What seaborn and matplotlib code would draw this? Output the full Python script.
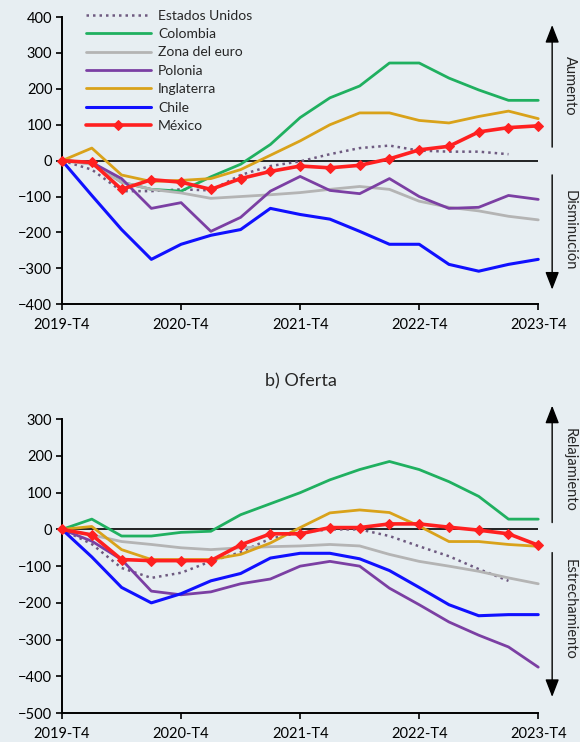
import numpy as np
import pandas as pd
import matplotlib
matplotlib.use("Agg")
import matplotlib.pyplot as plt
import seaborn as sns

# quarters 2019-T4 .. 2023-T4
quarters = list(range(17))
tick_pos = [0, 4, 8, 12, 16]
tick_labels = ["2019-T4", "2020-T4", "2021-T4", "2022-T4", "2023-T4"]

series_names = ["Estados Unidos", "Colombia", "Zona del euro", "Polonia",
                "Inglaterra", "Chile", "México"]

# a) Demanda (top panel)
dem_eeuu = [0, -25, -85, -85, -80, -83, -40, -15, -2, 18, 35, 42, 28, 25, 25, 18, np.nan]
dem_colombia = [0, -5, -60, -80, -85, -45, -10, 45, 120, 175, 208, 272, 272, 230, 197, 168, 168]
dem_euro = [0, -10, -60, -80, -90, -105, -100, -95, -89, -80, -72, -80, -113, -130, -140, -155, -165]
dem_polonia = [0, -5, -50, -133, -117, -197, -158, -85, -44, -83, -92, -50, -100, -133, -130, -97, -108]
dem_inglaterra = [0, 35, -40, -58, -55, -50, -25, 15, 55, 100, 133, 133, 112, 105, 123, 138, 117]
dem_chile = [0, -97, -192, -275, -233, -208, -192, -133, -150, -163, -197, -233, -233, -289, -308, -289, -275]
dem_mexico = [0, -5, -80, -53, -60, -80, -50, -30, -15, -20, -13, 5, 30, 40, 80, 92, 97]

# b) Oferta (bottom panel)
of_eeuu = [0, -40, -105, -132, -118, -87, -62, -25, -8, 0, 0, -18, -46, -73, -108, -140, np.nan]
of_colombia = [0, 28, -18, -18, -8, -5, 40, 70, 100, 135, 163, 185, 163, 130, 90, 28, 28]
of_euro = [0, -15, -33, -41, -50, -55, -50, -47, -45, -41, -45, -68, -87, -100, -114, -132, -148]
of_polonia = [0, -32, -82, -168, -178, -170, -148, -135, -100, -87, -100, -160, -205, -252, -288, -320, -375]
of_inglaterra = [0, 8, -55, -82, -82, -82, -68, -37, 5, 45, 53, 46, 9, -33, -33, -41, -46]
of_chile = [0, -75, -158, -200, -175, -140, -120, -78, -65, -65, -80, -112, -158, -205, -235, -232, -232]
of_mexico = [0, -15, -82, -85, -85, -85, -42, -12, -12, 5, 5, 15, 15, 6, -2, -12, -43]

styles = {
    "Estados Unidos": dict(color="#6e5a80", lw=1.8, ls=(0, (1, 1.6))),
    "Colombia": dict(color="#20b060", lw=2.0, ls="-"),
    "Zona del euro": dict(color="#b4b4b4", lw=2.0, ls="-"),
    "Polonia": dict(color="#7b3fa3", lw=2.0, ls="-"),
    "Inglaterra": dict(color="#d9a21a", lw=2.0, ls="-"),
    "Chile": dict(color="#1010ff", lw=2.2, ls="-"),
    "México": dict(color="#ff2020", lw=2.6, ls="-", marker="D", ms=5),
}

bg = "#e7eef2"
sns.set_style("ticks")
plt.rcParams["font.family"] = ["Lato", "DejaVu Sans"]

fig = plt.figure(figsize=(5.8, 7.42), dpi=100, facecolor=bg)
ax1 = fig.add_axes([0.107, 0.590, 0.821, 0.387])
ax2 = fig.add_axes([0.107, 0.039, 0.821, 0.396])


def draw_panel(ax, data, ylim, yticks, legend=False):
    ax.set_facecolor(bg)
    ax.axhline(0, color="black", lw=1.2, zorder=1)
    for name in series_names:
        df = pd.DataFrame({"q": quarters, "v": data[name]})
        st = styles[name]
        sns.lineplot(data=df, x="q", y="v", ax=ax, color=st["color"], lw=st["lw"],
                     linestyle=st["ls"], marker=st.get("marker"), markersize=st.get("ms", 0),
                     markeredgecolor=st["color"], label=name if legend else None,
                     zorder=3 if name == "México" else 2, clip_on=False)
    ax.set_xlim(0, 16)
    ax.set_ylim(*ylim)
    ax.set_yticks(yticks)
    ax.set_xticks(tick_pos)
    ax.set_xticklabels(tick_labels)
    ax.set_xlabel("")
    ax.set_ylabel("")
    for side in ["top", "right"]:
        ax.spines[side].set_visible(False)
    for side in ["left", "bottom"]:
        ax.spines[side].set_color("black")
        ax.spines[side].set_linewidth(1.4)
    ax.tick_params(axis="both", labelsize=10.5, colors="black", length=4, width=1.2, pad=3)
    ax.tick_params(axis="x", pad=6)


dem = dict(zip(series_names, [dem_eeuu, dem_colombia, dem_euro, dem_polonia,
                              dem_inglaterra, dem_chile, dem_mexico]))
ofe = dict(zip(series_names, [of_eeuu, of_colombia, of_euro, of_polonia,
                              of_inglaterra, of_chile, of_mexico]))

draw_panel(ax1, dem, (-400, 400), range(-400, 401, 100), legend=True)
draw_panel(ax2, ofe, (-500, 300), range(-500, 301, 100))

leg = ax1.legend(loc="upper left", bbox_to_anchor=(0.038, 1.045), frameon=False,
                 fontsize=10, handlelength=4.7, labelspacing=0.46, handletextpad=0.5,
                 borderaxespad=0)

fig.text(0.519, 0.4865, "b) Oferta", ha="center", va="center", fontsize=13)

# side arrows with labels
def side_arrow(y_from, y_to, text, y_text):
    fig.add_artist(matplotlib.patches.FancyArrowPatch(
        (0.952, y_from), (0.952, y_to), transform=fig.transFigure,
        arrowstyle="-|>,head_length=0.9,head_width=0.35", mutation_scale=12,
        color="black", lw=1.0))
    fig.text(0.982, y_text, text, rotation=-90, ha="center", va="center", fontsize=10.5)

side_arrow(0.798, 0.970, "Aumento", 0.885)
side_arrow(0.768, 0.606, "Disminución", 0.69)
side_arrow(0.292, 0.457, "Relajamiento", 0.367)
side_arrow(0.259, 0.057, "Estrechamiento", 0.178)

fig.savefig("out.png", dpi=100, facecolor=bg)
